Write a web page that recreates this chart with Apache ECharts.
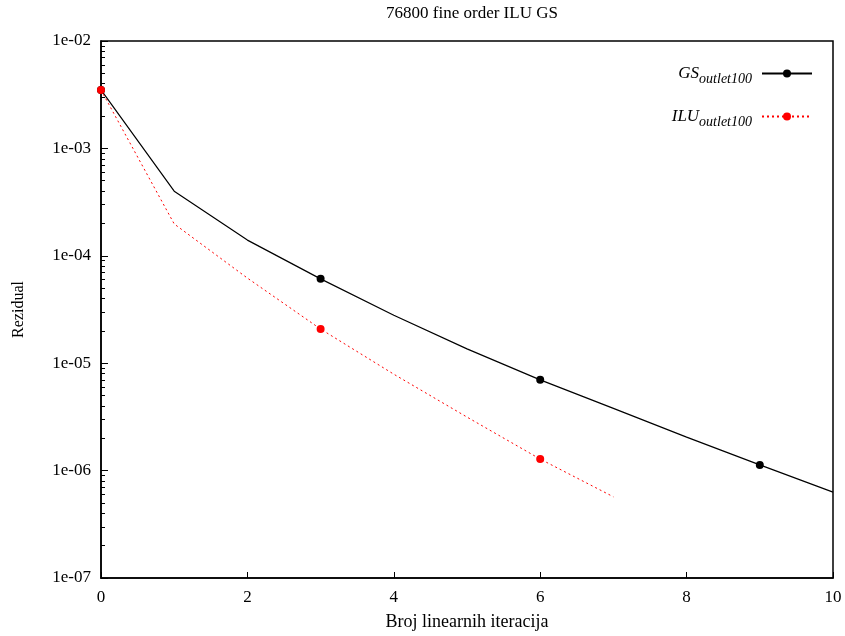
<!DOCTYPE html>
<html>
<head>
<meta charset="utf-8">
<script src="https://cdn.jsdelivr.net/npm/echarts@6/dist/echarts.min.js"></script>
<style>html,body{margin:0;padding:0;background:#fff}#c{width:845px;height:636px}</style>
</head>
<body>
<div id="c"></div>
<script>
const iterations = [0, 1, 2, 3, 4, 5, 6, 7, 8, 9, 10];
const gsValues = [3.5e-3, 4.0e-4, 1.40e-4, 6.1e-5, 2.8e-5, 1.36e-5, 7.0e-6, 3.8e-6, 2.05e-6, 1.13e-6, 6.3e-7];
const iluValues = [3.5e-3, 1.98e-4, 6.2e-5, 2.08e-5, 7.9e-6, 3.15e-6, 1.28e-6, 5.7e-7];
const yTickLabels = ['1e-07', '1e-06', '1e-05', '1e-04', '1e-03', '1e-02'];
const seriesNames = ['GS', 'ILU'];
const subscript = 'outlet100';

const FONT = '"Liberation Serif", "DejaVu Serif", serif';
const minorTicks = [];
for (let e = -7; e <= -3; e++) for (let m = 2; m <= 9; m++) minorTicks.push(m * Math.pow(10, e));

const toPairs = vals => vals.map((v, i) => [iterations[i], v]);
const markerSize = (v, p) => (p.dataIndex % 3 === 0 ? 8 : 0);

const chart = echarts.init(document.getElementById('c'), null, {renderer: 'canvas'});
chart.setOption({
  animation: false,
  backgroundColor: '#fff',
  title: {
    text: '76800 fine order ILU GS',
    left: 467, top: 0, textAlign: 'center',
    textStyle: {fontFamily: FONT, fontSize: 17, fontWeight: 'normal', color: '#000'}
  },
  grid: {left: 101, top: 41, right: 12, bottom: 58, show: true, borderColor: '#000', borderWidth: 1.5, backgroundColor: 'transparent'},
  legend: {
    orient: 'vertical', right: 27, top: 60, align: 'right',
    itemWidth: 50, itemHeight: 10, itemGap: 22,
    data: seriesNames,
    formatter: n => '{m|' + n + '}{s|' + subscript + '}',
    textStyle: {
      fontFamily: FONT, color: '#000',
      rich: {
        m: {fontFamily: FONT, fontStyle: 'italic', fontSize: 17, color: '#000'},
        s: {fontFamily: FONT, fontStyle: 'italic', fontSize: 14, color: '#000', padding: [11, 5, 0, 0]}
      }
    }
  },
  xAxis: {
    type: 'value', min: 0, max: 10, interval: 2,
    name: 'Broj linearnih iteracija', nameLocation: 'middle', nameGap: 35,
    nameTextStyle: {fontFamily: FONT, fontSize: 18, color: '#000'},
    axisLine: {show: true, lineStyle: {color: '#000', width: 1.5}},
    axisTick: {show: true, inside: true, length: 6, lineStyle: {color: '#000'}},
    axisLabel: {fontFamily: FONT, fontSize: 17, color: '#000', margin: 11},
    splitLine: {show: false}
  },
  yAxis: [{
    type: 'log', logBase: 10, min: 1e-7, max: 1e-2,
    name: 'Rezidual', nameLocation: 'middle', nameGap: 74, nameRotate: 90,
    nameTextStyle: {fontFamily: FONT, fontSize: 16, color: '#000'},
    axisLine: {show: true, lineStyle: {color: '#000', width: 1.5}},
    axisTick: {show: true, inside: true, length: 7, lineStyle: {color: '#000'}},
    axisLabel: {
      fontFamily: FONT, fontSize: 17, color: '#000', margin: 10,
      formatter: v => yTickLabels[Math.round(Math.log10(v)) + 7]
    },
    splitLine: {show: false}
  }, {
    type: 'log', logBase: 10, min: 1e-7, max: 1e-2, position: 'left', offset: 0,
    axisLine: {show: false},
    axisTick: {show: true, inside: true, length: 4, customValues: minorTicks, lineStyle: {color: '#000'}},
    axisLabel: {show: false},
    splitLine: {show: false}
  }],
  series: [{
    name: 'GS', type: 'line', data: toPairs(gsValues),
    symbol: 'circle', symbolSize: markerSize, showAllSymbol: true,
    itemStyle: {color: '#000'},
    lineStyle: {color: '#000', width: 1.2}
  }, {
    name: 'ILU', type: 'line', data: toPairs(iluValues),
    symbol: 'circle', symbolSize: markerSize, showAllSymbol: true,
    itemStyle: {color: '#ff0000'},
    lineStyle: {color: '#ff0000', width: 1, type: [2, 3]}
  }]
});
</script>
</body>
</html>
